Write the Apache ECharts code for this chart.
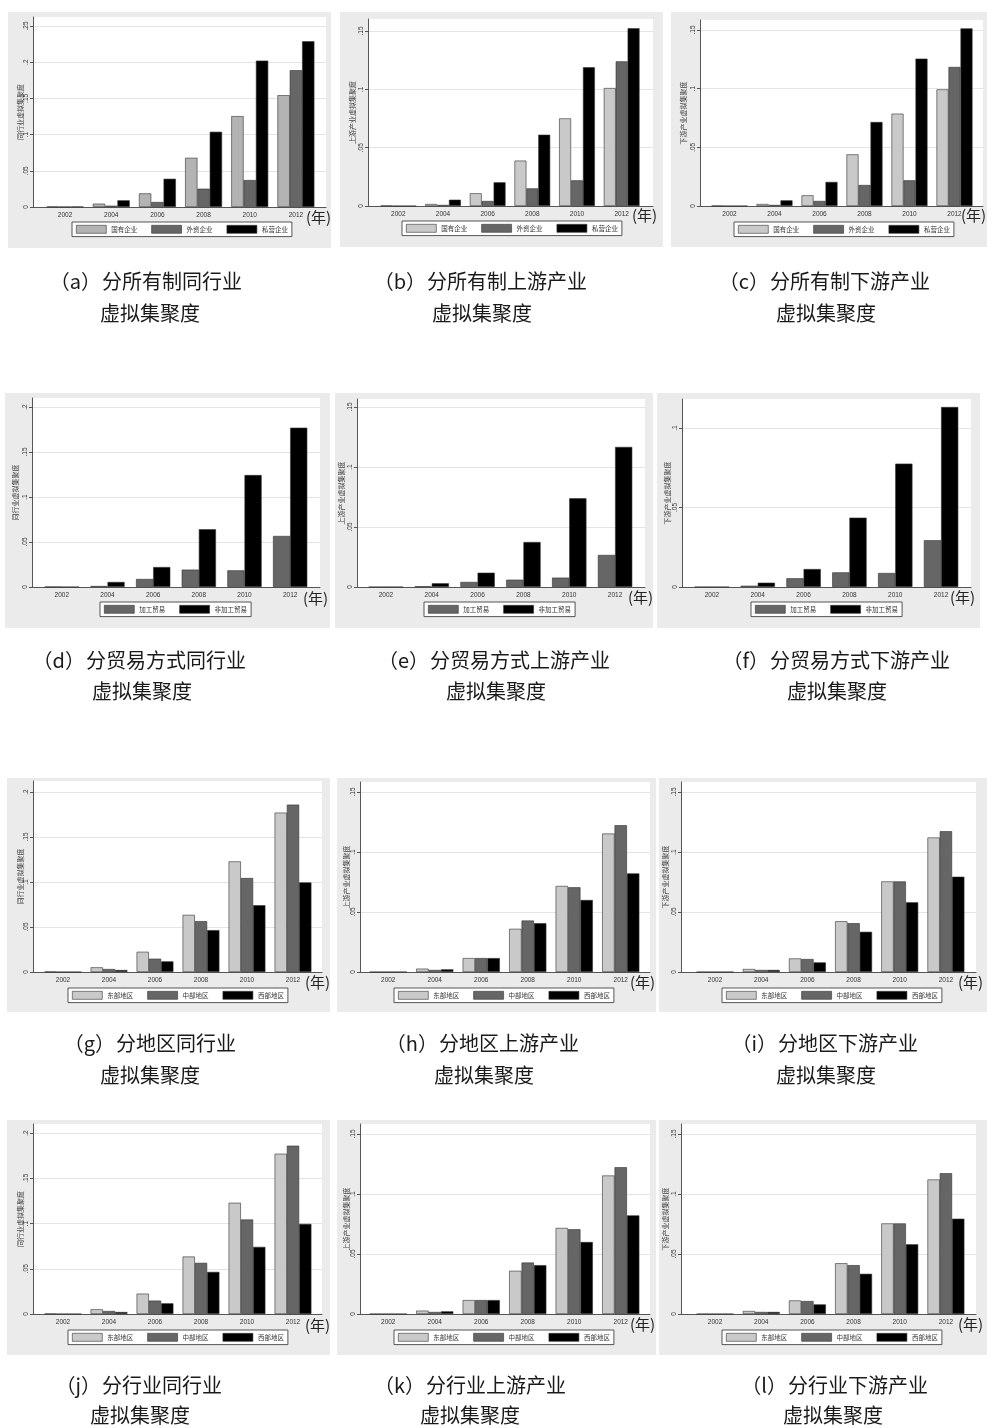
<!DOCTYPE html>
<html>
<head>
<meta charset="utf-8">
<script src="https://cdn.jsdelivr.net/npm/echarts@6/dist/echarts.min.js"></script>
<style>
  html, body { margin: 0; padding: 0; background: #ffffff; }
  #chart { width: 987px; height: 1428px; }
</style>
</head>
<body>
<div id="chart"></div>
<script>
// ---- categories and series names ----
const years = ['2002', '2004', '2006', '2008', '2010', '2012'];
const ownershipNames = ['国有企业', '外资企业', '私营企业'];
const tradeNames = ['加工贸易', '非加工贸易'];
const regionNames = ['东部地区', '中部地区', '西部地区'];

// ---- by ownership ----
const sameState    = [0.0006, 0.0046, 0.0188, 0.0680, 0.1255, 0.1544];
const sameForeign  = [0.0003, 0.0018, 0.0069, 0.0253, 0.0372, 0.1889];
const samePrivate  = [0.0005, 0.0092, 0.0390, 0.1039, 0.2022, 0.2289];
const upState      = [0.0003, 0.0017, 0.0109, 0.0389, 0.0751, 0.1011];
const upForeign    = [0.0000, 0.0009, 0.0043, 0.0151, 0.0220, 0.1240];
const upPrivate    = [0.0000, 0.0054, 0.0203, 0.0611, 0.1189, 0.1523];
const downState    = [0.0002, 0.0017, 0.0091, 0.0440, 0.0787, 0.0994];
const downForeign  = [0.0000, 0.0009, 0.0043, 0.0179, 0.0219, 0.1185];
const downPrivate  = [0.0000, 0.0048, 0.0205, 0.0716, 0.1256, 0.1514];

// ---- by trade mode ----
const sameProc     = [0.0003, 0.0011, 0.0089, 0.0193, 0.0185, 0.0567];
const sameNonProc  = [0.0000, 0.0056, 0.0222, 0.0641, 0.1244, 0.1770];
const upProc       = [0.0000, 0.0006, 0.0042, 0.0061, 0.0078, 0.0267];
const upNonProc    = [0.0000, 0.0031, 0.0119, 0.0375, 0.0739, 0.1167];
const downProc     = [0.0000, 0.0008, 0.0055, 0.0092, 0.0088, 0.0294];
const downNonProc  = [0.0000, 0.0027, 0.0113, 0.0436, 0.0776, 0.1132];

// ---- by region ----
const sameEast     = [0.0004, 0.0052, 0.0225, 0.0635, 0.1229, 0.1771];
const sameCentral  = [0.0000, 0.0033, 0.0148, 0.0565, 0.1044, 0.1860];
const sameWest     = [0.0000, 0.0022, 0.0118, 0.0465, 0.0742, 0.0996];
const upEast       = [0.0000, 0.0028, 0.0116, 0.0360, 0.0717, 0.1154];
const upCentral    = [0.0000, 0.0017, 0.0116, 0.0429, 0.0706, 0.1223];
const upWest       = [0.0000, 0.0022, 0.0116, 0.0407, 0.0600, 0.0822];
const downEast     = [0.0000, 0.0025, 0.0113, 0.0423, 0.0755, 0.1121];
const downCentral  = [0.0000, 0.0017, 0.0108, 0.0407, 0.0755, 0.1173];
const downWest     = [0.0000, 0.0017, 0.0080, 0.0335, 0.0581, 0.0794];

// ---- by industry ----
const indSameEast    = [0.0004, 0.0052, 0.0225, 0.0635, 0.1229, 0.1771];
const indSameCentral = [0.0000, 0.0033, 0.0148, 0.0565, 0.1044, 0.1860];
const indSameWest    = [0.0000, 0.0022, 0.0118, 0.0465, 0.0742, 0.0996];
const indUpEast      = [0.0000, 0.0028, 0.0116, 0.0360, 0.0717, 0.1154];
const indUpCentral   = [0.0000, 0.0017, 0.0116, 0.0429, 0.0706, 0.1223];
const indUpWest      = [0.0000, 0.0022, 0.0116, 0.0407, 0.0600, 0.0822];
const indDownEast    = [0.0000, 0.0025, 0.0113, 0.0423, 0.0755, 0.1121];
const indDownCentral = [0.0000, 0.0017, 0.0108, 0.0407, 0.0755, 0.1173];
const indDownWest    = [0.0000, 0.0017, 0.0080, 0.0335, 0.0581, 0.0794];

// ---- styling ----
const LIGHT_A = '#b3b3b3', LIGHT = '#c9c9c9', DARK = '#666666', BLACK = '#000000';
const PANEL_BG = '#ebebeb', AXIS = '#555555', GRIDLINE = '#e4e4e4';
const CJK = '"Noto Sans CJK SC", sans-serif';
const LATIN = '"Liberation Sans", Arial, sans-serif';

const T_SAME = '同行业虚拟集聚度', T_UP = '上游产业虚拟集聚度', T_DOWN = '下游产业虚拟集聚度';

// panel layout: bg box, y-axis line x, plot right edge, white top, zero line y,
// y of top tick, bar band extent, legend box corner, "(年)" anchor, caption
const panels = [
  { names: ownershipNames, values: [sameState, sameForeign, samePrivate], colors: [LIGHT_A, DARK, BLACK],
    yTitle: T_SAME, topVal: 0.25,
    geo: { bg: [8, 12, 331, 248], axisX: 33, plotRight: 326, whiteTop: 17, zeroY: 207, topTickY: 26, bars: [42, 319], legend: [72, 222], nian: [306, 217], nameGap: 9 },
    cap: { tag: '（a）', t1: '分所有制同行业', t2: '虚拟集聚度', x1: 102, x2: 100, y1: 281, y2: 313 } },
  { names: ownershipNames, values: [upState, upForeign, upPrivate], colors: [LIGHT, DARK, BLACK],
    yTitle: T_UP, topVal: 0.15,
    geo: { bg: [340, 12, 663, 247], axisX: 368, plotRight: 653, whiteTop: 19, zeroY: 206, topTickY: 31, bars: [376, 644], legend: [402, 221], nian: [632, 215], nameGap: 12 },
    cap: { tag: '（b）', t1: '分所有制上游产业', t2: '虚拟集聚度', x1: 427, x2: 432, y1: 281, y2: 313 } },
  { names: ownershipNames, values: [downState, downForeign, downPrivate], colors: [LIGHT, DARK, BLACK],
    yTitle: T_DOWN, topVal: 0.15,
    geo: { bg: [671, 12, 987, 247], axisX: 700, plotRight: 983, whiteTop: 20, zeroY: 206, topTickY: 30, bars: [707, 977], legend: [734, 222], nian: [961, 215], nameGap: 13 },
    cap: { tag: '（c）', t1: '分所有制下游产业', t2: '虚拟集聚度', x1: 770, x2: 776, y1: 281, y2: 313 } },

  { names: tradeNames, values: [sameProc, sameNonProc], colors: [DARK, BLACK],
    yTitle: T_SAME, topVal: 0.2,
    geo: { bg: [5, 393, 330, 628], axisX: 32, plotRight: 320, whiteTop: 398, zeroY: 587, topTickY: 407, bars: [39, 313], legend: [100, 602], nian: [303, 598], nameGap: 13 },
    cap: { tag: '（d）', t1: '分贸易方式同行业', t2: '虚拟集聚度', x1: 86, x2: 92, y1: 660, y2: 691 } },
  { names: tradeNames, values: [upProc, upNonProc], colors: [DARK, BLACK],
    yTitle: T_UP, topVal: 0.15,
    geo: { bg: [335, 393, 653, 628], axisX: 357, plotRight: 645, whiteTop: 399, zeroY: 587, topTickY: 407, bars: [363, 638], legend: [424, 602], nian: [628, 597], nameGap: 12 },
    cap: { tag: '（e）', t1: '分贸易方式上游产业', t2: '虚拟集聚度', x1: 430, x2: 446, y1: 660, y2: 691 } },
  { names: tradeNames, values: [downProc, downNonProc], colors: [DARK, BLACK],
    yTitle: T_DOWN, topVal: 0.1,
    geo: { bg: [657, 393, 980, 628], axisX: 682, plotRight: 971, whiteTop: 399, zeroY: 587, topTickY: 428, bars: [689, 964], legend: [751, 602], nian: [950, 597], nameGap: 11 },
    cap: { tag: '（f）', t1: '分贸易方式下游产业', t2: '虚拟集聚度', x1: 770, x2: 787, y1: 660, y2: 691 } },

  { names: regionNames, values: [sameEast, sameCentral, sameWest], colors: [LIGHT, DARK, BLACK],
    yTitle: T_SAME, topVal: 0.2,
    geo: { bg: [7, 778, 330, 1012], axisX: 33, plotRight: 322, whiteTop: 781, zeroY: 972, topTickY: 792, bars: [40, 316], legend: [68, 988], nian: [305, 982], nameGap: 9 },
    cap: { tag: '（g）', t1: '分地区同行业', t2: '虚拟集聚度', x1: 116, x2: 100, y1: 1043, y2: 1075 } },
  { names: regionNames, values: [upEast, upCentral, upWest], colors: [LIGHT, DARK, BLACK],
    yTitle: T_UP, topVal: 0.15,
    geo: { bg: [337, 778, 656, 1012], axisX: 360, plotRight: 650, whiteTop: 782, zeroY: 972, topTickY: 792, bars: [365, 644], legend: [394, 988], nian: [630, 982], nameGap: 10 },
    cap: { tag: '（h）', t1: '分地区上游产业', t2: '虚拟集聚度', x1: 439, x2: 434, y1: 1043, y2: 1075 } },
  { names: regionNames, values: [downEast, downCentral, downWest], colors: [LIGHT, DARK, BLACK],
    yTitle: T_DOWN, topVal: 0.15,
    geo: { bg: [659, 778, 987, 1012], axisX: 681, plotRight: 976, whiteTop: 782, zeroY: 972, topTickY: 792, bars: [692, 969], legend: [722, 988], nian: [958, 982], nameGap: 12 },
    cap: { tag: '（i）', t1: '分地区下游产业', t2: '虚拟集聚度', x1: 778, x2: 776, y1: 1043, y2: 1075 } },

  { names: regionNames, values: [indSameEast, indSameCentral, indSameWest], colors: [LIGHT, DARK, BLACK],
    yTitle: T_SAME, topVal: 0.2,
    geo: { bg: [7, 1120, 330, 1355], axisX: 33, plotRight: 322, whiteTop: 1124, zeroY: 1314, topTickY: 1133, bars: [40, 316], legend: [68, 1330], nian: [305, 1325], nameGap: 9 },
    cap: { tag: '（j）', t1: '分行业同行业', t2: '虚拟集聚度', x1: 102, x2: 90, y1: 1385, y2: 1415 } },
  { names: regionNames, values: [indUpEast, indUpCentral, indUpWest], colors: [LIGHT, DARK, BLACK],
    yTitle: T_UP, topVal: 0.15,
    geo: { bg: [337, 1120, 656, 1355], axisX: 360, plotRight: 650, whiteTop: 1124, zeroY: 1314, topTickY: 1134, bars: [365, 644], legend: [394, 1330], nian: [630, 1324], nameGap: 10 },
    cap: { tag: '（k）', t1: '分行业上游产业', t2: '虚拟集聚度', x1: 426, x2: 420, y1: 1385, y2: 1415 } },
  { names: regionNames, values: [indDownEast, indDownCentral, indDownWest], colors: [LIGHT, DARK, BLACK],
    yTitle: T_DOWN, topVal: 0.15,
    geo: { bg: [659, 1120, 987, 1355], axisX: 681, plotRight: 976, whiteTop: 1124, zeroY: 1314, topTickY: 1134, bars: [692, 969], legend: [722, 1330], nian: [958, 1324], nameGap: 12 },
    cap: { tag: '（l）', t1: '分行业下游产业', t2: '虚拟集聚度', x1: 788, x2: 783, y1: 1385, y2: 1415 } }
];

// Stata-style tick labels: ".05", ".1", "0"
function tickFmt(v) {
  if (Math.abs(v) < 1e-9) return '0';
  return String(+v.toFixed(2)).replace(/^0\./, '.');
}

const grid = [], xAxis = [], yAxis = [], series = [], legend = [], elements = [];

panels.forEach((p, i) => {
  const g = p.geo;
  const fi = 2 * i, bi = 2 * i + 1;

  // frame grid: full plot width, carries the baseline, ticks, labels and grid lines
  grid.push({ left: g.axisX, top: g.topTickY, width: g.plotRight - g.axisX, height: g.zeroY - g.topTickY, outerBoundsMode: 'none', containLabel: false });
  // bar grid: inner band where the year groups sit, extending up to the white top
  grid.push({ left: g.bars[0], top: g.whiteTop, width: g.bars[1] - g.bars[0], height: g.zeroY - g.whiteTop, outerBoundsMode: 'none', containLabel: false });

  xAxis.push({
    type: 'category', gridIndex: fi, data: years, silent: true,
    axisLine: { show: true, lineStyle: { color: AXIS, width: 1 } },
    axisTick: { show: false }, axisLabel: { show: false }, splitLine: { show: false }
  });
  xAxis.push({
    type: 'category', gridIndex: bi, data: years, silent: true,
    axisLine: { show: false }, axisTick: { show: false }, splitLine: { show: false },
    axisLabel: { show: true, interval: 0, fontSize: 6.5, color: '#333', margin: 5, fontFamily: LATIN }
  });

  yAxis.push({
    type: 'value', gridIndex: fi, min: 0, max: p.topVal, interval: 0.05, silent: true,
    axisLine: { show: false },
    axisTick: { show: true, length: 3, lineStyle: { color: AXIS, width: 1 } },
    axisLabel: { show: true, rotate: 90, fontSize: 6.5, color: '#333', margin: 3, fontFamily: LATIN, formatter: tickFmt },
    splitLine: { show: true, lineStyle: { color: GRIDLINE, width: 1 } }
  });
  const barMax = p.topVal * (g.zeroY - g.whiteTop) / (g.zeroY - g.topTickY);
  yAxis.push({
    type: 'value', gridIndex: bi, min: 0, max: barMax, silent: true,
    offset: g.bars[0] - g.axisX,
    axisLine: { show: true, lineStyle: { color: AXIS, width: 1 } },
    axisTick: { show: false }, axisLabel: { show: false }, splitLine: { show: false },
    name: p.yTitle, nameLocation: 'middle', nameGap: g.nameGap, nameRotate: 90, nameMoveOverlap: false,
    nameTextStyle: { fontSize: 7, color: '#444', fontFamily: CJK }
  });

  p.names.forEach((n, k) => {
    series.push({
      type: 'bar', name: n, xAxisIndex: bi, yAxisIndex: bi, data: p.values[k],
      barGap: '0%', barCategoryGap: p.names.length === 3 ? '20%' : '25%',
      itemStyle: { color: p.colors[k], borderColor: '#333', borderWidth: 0.6 },
      emphasis: { disabled: true }, silent: true
    });
  });

  legend.push({
    show: true, orient: 'horizontal', left: g.legend[0], top: g.legend[1],
    data: p.names.map((n, k) => ({ name: n, icon: 'rect', itemStyle: { color: p.colors[k], borderColor: '#333', borderWidth: 0.6 } })),
    itemWidth: 30, itemHeight: 8, itemGap: 14, padding: [3, 4, 3, 4],
    backgroundColor: '#ffffff', borderColor: '#555', borderWidth: 1, borderRadius: 0,
    selectedMode: false,
    textStyle: { fontSize: 6.5, color: '#333', fontFamily: CJK }
  });

  // panel background and white plot region
  elements.push({ type: 'rect', z: -20, silent: true,
    shape: { x: g.bg[0], y: g.bg[1], width: g.bg[2] - g.bg[0], height: g.bg[3] - g.bg[1] },
    style: { fill: PANEL_BG } });
  elements.push({ type: 'rect', z: -19, silent: true,
    shape: { x: g.axisX, y: g.whiteTop, width: g.plotRight - g.axisX, height: g.zeroY - g.whiteTop },
    style: { fill: '#ffffff' } });

  // year unit next to the last category
  elements.push({ type: 'text', z: 50, silent: true, x: g.nian[0], y: g.nian[1],
    style: { text: '(年)', fontSize: 15, fontFamily: CJK, fill: '#222', textAlign: 'left', textVerticalAlign: 'middle' } });

  // two-line caption under each panel
  const c = p.cap;
  elements.push({ type: 'text', z: 50, silent: true, x: c.x1 - 1, y: c.y1,
    style: { text: c.tag, fontSize: 20, fontFamily: CJK, fill: '#1a1a1a', textAlign: 'right', textVerticalAlign: 'middle' } });
  elements.push({ type: 'text', z: 50, silent: true, x: c.x1, y: c.y1,
    style: { text: c.t1, fontSize: 20, fontFamily: CJK, fill: '#1a1a1a', textAlign: 'left', textVerticalAlign: 'middle' } });
  elements.push({ type: 'text', z: 50, silent: true, x: c.x2, y: c.y2,
    style: { text: c.t2, fontSize: 20, fontFamily: CJK, fill: '#1a1a1a', textAlign: 'left', textVerticalAlign: 'middle' } });
});

const chart = echarts.init(document.getElementById('chart'), null, { renderer: 'canvas', width: 987, height: 1428 });
chart.setOption({
  animation: false,
  backgroundColor: '#ffffff',
  tooltip: { show: false },
  grid, xAxis, yAxis, series, legend,
  graphic: { elements }
});
</script>
</body>
</html>
